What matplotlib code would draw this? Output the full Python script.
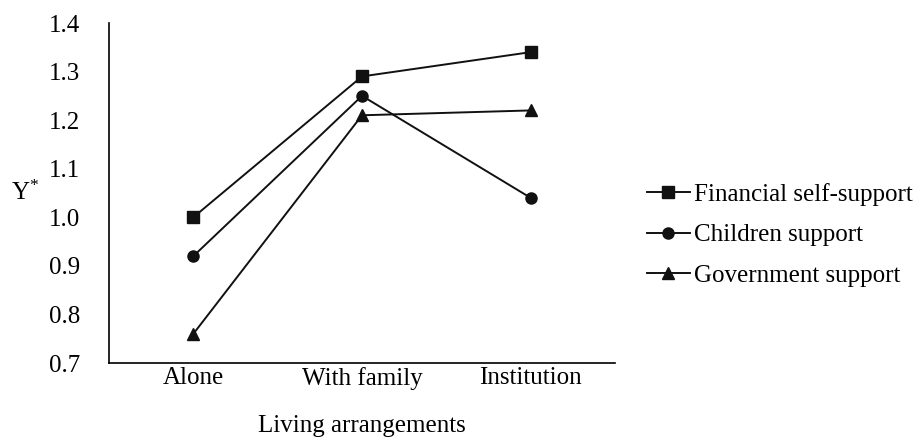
import matplotlib
matplotlib.use('Agg')
import matplotlib.pyplot as plt

plt.rcParams['font.family'] = 'Liberation Serif'
plt.rcParams['mathtext.fontset'] = 'custom'
plt.rcParams['mathtext.rm'] = 'Liberation Serif'
plt.rcParams['mathtext.it'] = 'Liberation Serif:italic'

categorias = ['Alone', 'With family', 'Institution']
financial = [1.00, 1.29, 1.34]
children = [0.92, 1.25, 1.04]
government = [0.76, 1.21, 1.22]
y_ticks = [0.7, 0.8, 0.9, 1.0, 1.1, 1.2, 1.3, 1.4]

fig = plt.figure(figsize=(9.22, 4.43), dpi=100)
ax = fig.add_axes([109/922, 80/443, 506/922, 340/443])

x = range(len(categorias))
ax.plot(x, financial, color='#111111', linewidth=1.4, marker='s', markersize=8, label='Financial self-support')
ax.plot(x, children, color='#111111', linewidth=1.4, marker='o', markersize=8, label='Children support')
ax.plot(x, government, color='#111111', linewidth=1.4, marker='^', markersize=8, label='Government support')

ax.set_xlim(-0.5, 2.5)
ax.set_ylim(0.7, 1.4)
ax.set_yticks(y_ticks)
ax.set_yticklabels([f'{v:.1f}' for v in y_ticks])
ax.set_xticks(list(x))
ax.set_xticklabels(categorias)
ax.tick_params(axis='both', length=0, labelsize=18)
ax.tick_params(axis='y', pad=21)
ax.tick_params(axis='x', pad=3)

ax.spines['top'].set_visible(False)
ax.spines['right'].set_visible(False)
ax.spines['left'].set_linewidth(1.2)
ax.spines['bottom'].set_linewidth(1.2)

ax.set_xlabel('Living arrangements', fontsize=18, labelpad=18)
ax.set_ylabel(r'$\mathrm{Y}^{*}$', fontsize=18, rotation=0, labelpad=17, va='center')

fig.legend(loc='center left', bbox_to_anchor=(647/922, 1 - 235/443), frameon=False,
           fontsize=18, handlelength=1.7, handletextpad=0.2, labelspacing=0.72,
           borderpad=0, borderaxespad=0)

fig.savefig('out.png', dpi=100)
